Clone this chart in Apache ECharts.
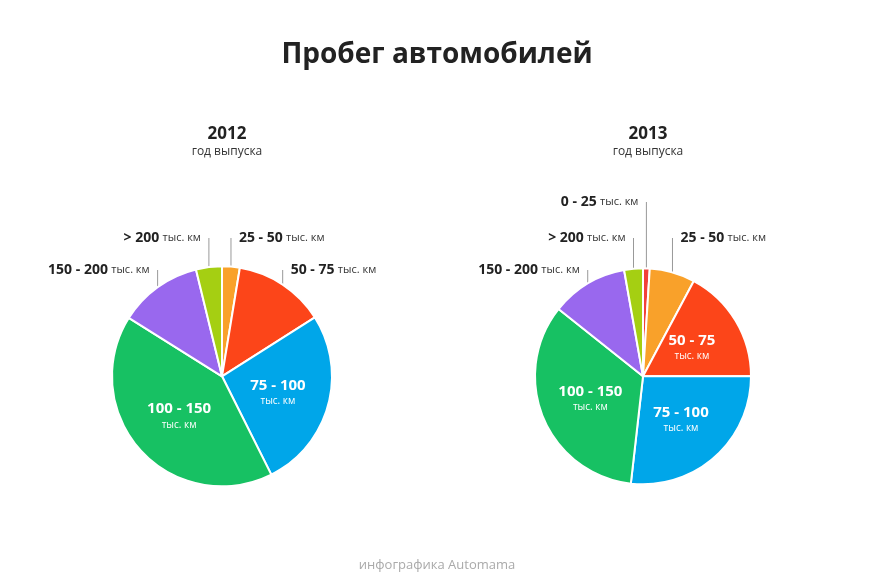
<!DOCTYPE html>
<html><head><meta charset="utf-8">
<script src="https://cdn.jsdelivr.net/npm/echarts@6/dist/echarts.min.js"></script>
<style>html,body{margin:0;background:#fff}#c{width:874px;height:588px}</style>
</head><body><div id="c"></div>
<script>
const categories2012 = ['25 - 50','50 - 75','75 - 100','100 - 150','150 - 200','> 200'];
const values2012 = [2.6, 13.4, 26.6, 41.3, 12.3, 3.8];
const categories2013 = ['0 - 25','25 - 50','50 - 75','75 - 100','100 - 150','150 - 200','> 200'];
const values2013 = [1.0, 6.8, 17.2, 26.8, 33.9, 11.5, 2.8];
const colorMap = {'0 - 25':'#f2403a','25 - 50':'#f9a12a','50 - 75':'#fc4519','75 - 100':'#00a6e9','100 - 150':'#17c163','150 - 200':'#9968ee','> 200':'#a5cf12'};
// outside labels: name -> [dot y, side]
const outside2012 = {'25 - 50':[238,'r'],'50 - 75':[270,'r'],'150 - 200':[270,'l'],'> 200':[238,'l']};
const outside2013 = {'0 - 25':[202,'l'],'25 - 50':[238,'r'],'150 - 200':[270,'l'],'> 200':[238,'l']};
const unit = 'тыс. км';
const FONT = '"Open Sans", sans-serif';

function buildData(cats, vals, outs){
  return cats.map((n,i)=>{
    const o = outs[n];
    return {name:n, value:vals[i], itemStyle:{color:colorMap[n]},
      label: o ? {position:'outside', formatter:'{ob|{b}} {os|'+unit+'}'} : {position:'inside', formatter:'{ib|{b}}\n{is|'+unit+'}'},
      labelLine:{show:!!o, length:8, length2:0}};
  });
}
const rich = {
  ib:{fontFamily:FONT,fontWeight:'bold',fontSize:15,color:'#fff',lineHeight:19},
  is:{fontFamily:FONT,fontSize:10,color:'#fff',lineHeight:13},
  ob:{fontFamily:FONT,fontWeight:'bold',fontSize:14,color:'#222'},
  os:{fontFamily:FONT,fontSize:11,color:'#333'}
};
function makeSeries(cats, vals, outs, cx, r){
  return {type:'pie', center:[cx,'64%'], radius:r, startAngle:90, clockwise:true,
    itemStyle:{borderColor:'#fff',borderWidth:2}, animation:false,
    label:{rich:rich},
    labelLine:{lineStyle:{color:'#999',width:1}},
    data: buildData(cats, vals, outs),
    labelLayout: function(p){
      const o = outs[cats[p.dataIndex]];
      if(!o || !p.labelLinePoints) return {};
      const p0 = p.labelLinePoints[0];
      const x = o[1]==='r' ? p0[0]+8 : p0[0]-8;
      return {x:x, y:o[0], align:o[1]==='r'?'left':'right', verticalAlign:'middle',
        labelLinePoints:[p0,[p0[0],o[0]],[p0[0],o[0]]]};
    }
  };
}
const chart = echarts.init(document.getElementById('c'));
chart.setOption({
  backgroundColor:'#fff',
  title:[
    {text:'Пробег автомобилей',left:'center',top:36,textStyle:{fontFamily:FONT,fontWeight:'bold',fontSize:28,color:'#222'}},
    {text:'2012',subtext:'год выпуска',left:222,textAlign:'center',top:121,itemGap:3,textStyle:{fontFamily:FONT,fontWeight:'bold',fontSize:17,color:'#222'},subtextStyle:{fontFamily:FONT,fontSize:12,color:'#333'}},
    {text:'2013',subtext:'год выпуска',left:643,textAlign:'center',top:121,itemGap:3,textStyle:{fontFamily:FONT,fontWeight:'bold',fontSize:17,color:'#222'},subtextStyle:{fontFamily:FONT,fontSize:12,color:'#333'}},
    {text:'инфографика Automama',left:'center',top:554,textStyle:{fontFamily:FONT,fontWeight:'normal',fontSize:13,color:'#aaa'}}
  ],
  series:[
    makeSeries(categories2012, values2012, outside2012, 222, 110),
    makeSeries(categories2013, values2013, outside2013, 643, 108)
  ]
});
</script></body></html>
